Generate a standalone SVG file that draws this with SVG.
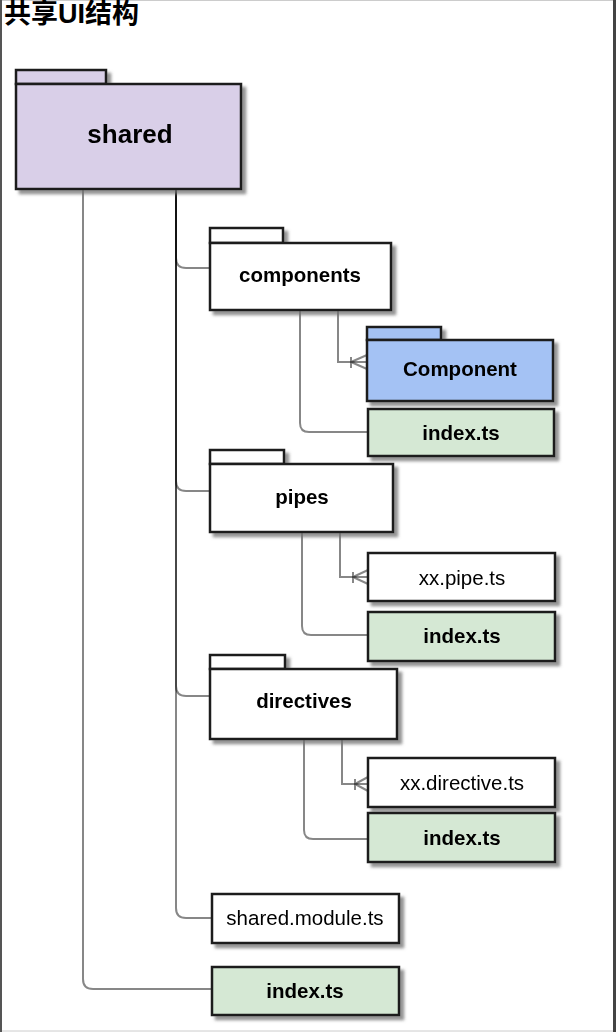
<svg xmlns="http://www.w3.org/2000/svg" width="616" height="1032" viewBox="0 0 616 1032">
<defs>
<filter id="sh" x="-10%" y="-10%" width="130%" height="140%">
<feDropShadow dx="4" dy="4" stdDeviation="1.5" flood-color="#707070" flood-opacity="0.75"/>
</filter>
</defs>
<style>
.box{stroke:#1e1e1e;stroke-width:2.5}
.w{fill:#ffffff}
.p{fill:#d9cfe8}
.b{fill:#a4c2f4}
.g{fill:#d5e8d4}
.t{font-family:"Liberation Sans",Arial,sans-serif;font-size:20.5px;fill:#000;text-anchor:middle}
.bd{font-weight:bold}
.c{fill:none;stroke:#000;stroke-opacity:0.47;stroke-width:2}
.title{font-family:"Liberation Sans","Noto Sans CJK SC",sans-serif;font-weight:bold;font-size:27px;fill:#000}
</style>
<rect x="0" y="0" width="616" height="1032" fill="#ffffff"/>
<rect x="0.5" y="0.5" width="615" height="1030.5" fill="none" stroke="#cccccc" stroke-width="1"/>
<line x1="1" y1="0" x2="1" y2="1032" stroke="#555" stroke-width="2"/>
<line x1="614.5" y1="0" x2="614.5" y2="1032" stroke="#444" stroke-width="3"/>
<text class="title" x="4" y="23">共享UI结构</text>

<g id="connectors">
<path class="c" d="M83,189 V979 Q83,989 93,989 H212"/>
<path class="c" d="M176,189 V258 Q176,268 186,268 H210"/>
<path class="c" d="M176,189 V481 Q176,491 186,491 H210"/>
<path class="c" d="M176,189 V686 Q176,696 186,696 H210"/>
<path class="c" d="M176,189 V908 Q176,918 186,918 H212"/>
<path class="c" d="M338,310 V362 H367"/>
<path class="c" d="M351,357 V368 M351,362 L367,355 M351,362 L367,369"/>
<path class="c" d="M300,310 V423 Q300,432 309,432 H368"/>
<path class="c" d="M340,532 V577 H368"/>
<path class="c" d="M353,572 V583 M353,577 L368,570 M353,577 L368,584"/>
<path class="c" d="M302,532 V626 Q302,635 311,635 H368"/>
<path class="c" d="M342,739 V784 H368"/>
<path class="c" d="M355,779 V790 M355,784 L368,777 M355,784 L368,791"/>
<path class="c" d="M304,739 V830 Q304,839 313,839 H368"/>
</g>

<g id="shared" filter="url(#sh)">
<rect class="box p" x="16" y="70" width="90" height="14"/>
<rect class="box p" x="16" y="84" width="225" height="105"/>
<text class="t bd" x="130" y="143" style="font-size:26px">shared</text>
</g>

<g id="components" filter="url(#sh)">
<rect class="box w" x="210" y="228" width="73" height="15"/>
<rect class="box w" x="210" y="243" width="181" height="67"/>
<text class="t bd" x="300" y="282">components</text>
</g>

<g id="component" filter="url(#sh)">
<rect class="box b" x="367" y="327" width="74" height="13"/>
<rect class="box b" x="367" y="340" width="186" height="61"/>
<text class="t bd" x="460" y="376">Component</text>
</g>

<g id="components-index" filter="url(#sh)">
<rect class="box g" x="368" y="409" width="186" height="47"/>
<text class="t bd" x="461" y="440">index.ts</text>
</g>

<g id="pipes" filter="url(#sh)">
<rect class="box w" x="210" y="450" width="74" height="14"/>
<rect class="box w" x="210" y="464" width="183" height="68"/>
<text class="t bd" x="302" y="504">pipes</text>
</g>

<g id="xx-pipe" filter="url(#sh)">
<rect class="box w" x="368" y="553" width="187" height="48"/>
<text class="t" x="462" y="585">xx.pipe.ts</text>
</g>

<g id="pipes-index" filter="url(#sh)">
<rect class="box g" x="368" y="612" width="187" height="49"/>
<text class="t bd" x="462" y="643">index.ts</text>
</g>

<g id="directives" filter="url(#sh)">
<rect class="box w" x="210" y="655" width="75" height="14"/>
<rect class="box w" x="210" y="669" width="187" height="70"/>
<text class="t bd" x="304" y="708">directives</text>
</g>

<g id="xx-directive" filter="url(#sh)">
<rect class="box w" x="368" y="758" width="187" height="49"/>
<text class="t" x="462" y="790">xx.directive.ts</text>
</g>

<g id="directives-index" filter="url(#sh)">
<rect class="box g" x="368" y="813" width="187" height="49"/>
<text class="t bd" x="462" y="845">index.ts</text>
</g>

<g id="shared-module" filter="url(#sh)">
<rect class="box w" x="212" y="894" width="187" height="49"/>
<text class="t" x="305" y="925">shared.module.ts</text>
</g>

<g id="root-index" filter="url(#sh)">
<rect class="box g" x="212" y="967" width="187" height="48"/>
<text class="t bd" x="305" y="998">index.ts</text>
</g>
</svg>
